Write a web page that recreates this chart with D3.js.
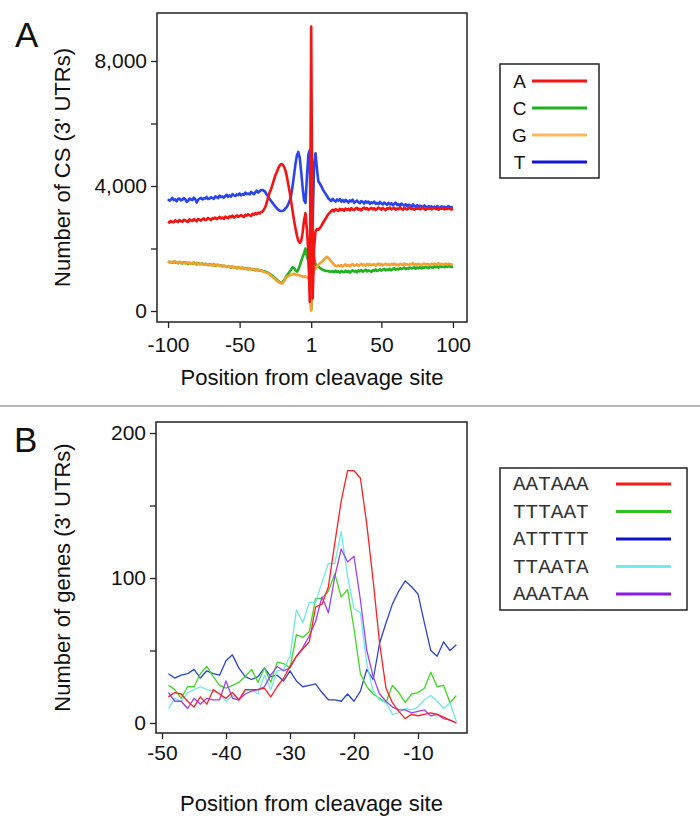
<!DOCTYPE html>
<html><head><meta charset="utf-8">
<script src="https://cdn.jsdelivr.net/npm/d3@7"></script>
<style>body{margin:0;background:#fff} svg{display:block}</style>
</head><body><svg id="c" width="700" height="831"></svg>
<script>
// ---------- Panel A data (index 0..199 = positions -100..-1, 1..100) ----------
const ntNames = ["A", "C", "G", "T"];
const xTickIdxA = [0, 50, 100, 149, 199];
const xTickLabA = ["-100", "-50", "1", "50", "100"];
const yTicksA = [0, 2000, 4000, 6000, 8000];
const yTickLabA = {0: "0", 4000: "4,000", 8000: "8,000"};

const seriesA_A = [
2860,2830,2880,2850,2840,2900,2870,2850,2910,2880,
2860,2920,2900,2870,2850,2930,2900,2880,2940,2910,
2870,2950,2920,2890,2940,2960,2910,2930,2980,2940,
2910,2970,2950,2990,2940,2970,3010,2960,2990,2950,
3020,2990,2970,3030,3000,3050,2990,3020,3060,3010,
3040,3070,3030,3010,3080,3050,3100,3060,3040,3110,
3080,3130,3100,3150,3120,3170,
3180,3250,3330,3480,3650,3800,3900,4050,4200,4350,4450,4570,4660,4700,4690,4620,4500,4300,4050,3800,
3500,3200,2900,2650,2420,2250,2180,2250,2500,2900,3130,2600,1900,300,9100,400,2000,2550,2620,2600,2650,2720,2800,2880,2950,3030,3100,3150,
3200,3240,3190,3260,3230,3200,3270,3230,3260,3210,
3280,3240,3270,3220,3290,3250,3230,3280,3300,3240,
3270,3220,3280,3310,3260,3290,3240,3270,3300,3250,
3290,3230,3270,3310,3280,3240,3300,3260,3230,3290,
3270,3310,3250,3280,3300,3240,3280,3260,3310,3270,
3240,3300,3270,3250,3290,3310,3260,3280,3240,3290,
3270,3300,3250,3280,3310,3260,3240,3290,3270,3300,
3250,3280,3300,3260,3290,3240,3280,3270,3300,3250,
3280,3260,3290,3270,3250,3270];

const seriesA_C = [
1590,1560,1570,1540,1580,1550,1560,1530,1570,1550,
1520,1560,1540,1550,1500,1540,1530,1510,1550,1520,
1490,1530,1510,1500,1520,1480,1510,1490,1470,1500,
1480,1460,1490,1450,1470,1480,1440,1460,1430,1450,
1440,1410,1440,1420,1390,1420,1400,1410,1370,1400,
1380,1360,1390,1350,1370,1360,1330,1360,1340,1320,
1340,1300,1330,1310,1290,1300,
1280,1270,1260,1240,1220,1190,1160,1120,1080,1040,1000,960,920,900,920,980,1060,1140,1200,1260,
1330,1400,1380,1300,1260,1320,1450,1600,1730,1850,2000,1750,1600,1200,30,1950,1700,1500,1440,1420,1380,1350,1320,1300,1290,1280,1270,1260,
1260,1280,1240,1290,1250,1270,1230,1280,1260,1240,
1290,1250,1280,1230,1270,1300,1260,1280,1240,1300,
1270,1310,1260,1290,1320,1270,1300,1280,1250,1310,
1290,1330,1280,1300,1340,1290,1320,1350,1300,1330,
1310,1350,1300,1340,1370,1320,1350,1330,1370,1340,
1360,1390,1340,1370,1350,1390,1360,1380,1400,1350,
1390,1370,1410,1360,1400,1380,1420,1390,1370,1420,
1400,1380,1430,1400,1420,1390,1440,1410,1430,1400,
1430,1410,1440,1420,1410,1430];

const seriesA_G = [
1560,1580,1540,1570,1550,1590,1560,1540,1570,1530,
1560,1540,1520,1560,1530,1550,1510,1540,1520,1500,
1540,1510,1490,1520,1500,1480,1510,1490,1500,1460,
1490,1470,1450,1480,1460,1470,1440,1460,1420,1450,
1430,1410,1440,1400,1420,1410,1380,1410,1390,1370,
1400,1360,1380,1350,1380,1340,1360,1350,1320,1350,
1320,1300,1330,1290,1310,1280,
1270,1250,1240,1220,1200,1170,1130,1090,1050,1010,970,930,900,880,890,950,1030,1090,1120,1140,
1160,1180,1190,1170,1150,1160,1140,1120,1100,1090,1110,1080,1050,900,20,1150,1300,1350,1420,1480,1520,1560,1600,1650,1700,1730,1700,1640,
1580,1530,1480,1440,1430,1460,1440,1470,1420,1460,
1490,1450,1470,1430,1480,1500,1450,1470,1490,1440,
1480,1510,1460,1490,1450,1500,1470,1510,1460,1480,
1500,1450,1490,1520,1470,1500,1460,1490,1510,1470,
1500,1460,1510,1480,1520,1470,1490,1460,1510,1490,
1470,1520,1480,1500,1460,1510,1490,1530,1480,1500,
1470,1510,1490,1460,1500,1520,1480,1510,1490,1470,
1510,1490,1520,1480,1500,1530,1490,1510,1480,1500,
1520,1490,1510,1500,1480,1500];

const seriesA_T = [
3580,3530,3560,3620,3550,3570,3510,3590,3600,3540,
3560,3610,3580,3490,3520,3600,3570,3550,3630,3580,
3470,3560,3590,3620,3570,3610,3600,3650,3580,3600,
3640,3620,3590,3670,3640,3610,3690,3650,3660,3630,
3680,3720,3650,3700,3660,3740,3700,3680,3730,3710,
3760,3700,3740,3720,3790,3740,3760,3730,3810,3770,
3740,3800,3850,3790,3830,3870,
3870,3850,3800,3720,3650,3580,3520,3460,3400,3340,3290,3240,3210,3200,3200,3230,3280,3330,3420,3550,
3700,4000,4350,4700,4980,5090,4900,4450,3950,3550,3460,4300,5000,5150,200,2800,4700,5050,4550,4150,4080,4000,3900,3820,3750,3680,3600,3560,
3520,3590,3540,3500,3570,3530,3580,3500,3550,3490,
3560,3520,3470,3540,3510,3560,3460,3500,3530,3480,
3450,3520,3490,3440,3510,3470,3500,3430,3480,3450,
3500,3430,3460,3420,3490,3440,3410,3470,3430,3400,
3460,3410,3450,3380,3430,3470,3390,3420,3360,3440,
3400,3370,3420,3350,3400,3380,3330,3410,3360,3340,
3390,3320,3370,3350,3310,3380,3340,3300,3360,3330,
3350,3300,3340,3290,3360,3320,3280,3350,3310,3340,
3290,3330,3360,3300,3320,3310];

const colorsA = ["#f41414", "#20b020", "#f5a030", "#2a44f0"];
const legendColorsA = ["#f41414", "#20b020", "#f6b860", "#1616d8"];

// ---------- Panel B data ----------
const positionsB = [-49,-48,-47,-46,-45,-44,-43,-42,-41,-40,-39,-38,-37,-36,-35,-34,-33,-32,-31,-30,
  -29,-28,-27,-26,-25,-24,-23,-22,-21,-20,-19,-18,-17,-16,-15,-14,-13,-12,-11,-10,-9,-8,-7,-6,-5,-4];
const motifs = ["AATAAA", "TTTAAT", "ATTTTT", "TTAATA", "AAATAA"];
const seriesB_AATAAA = [18,21,20,15,11,18,13,23,20,17,21,16,23,23,23,24,18,25,31,39,46,51,56,80,82,94,124,153,174,174,169,137,98,55,24,14,8,3,6,5,6,7,6,4,2,0];
const seriesB_TTTAAT = [26,23,17,25,25,34,39,32,26,24,26,28,32,37,28,38,28,42,41,38,61,59,63,86,86,91,103,87,92,65,34,25,20,17,14,26,21,14,20,21,24,35,25,26,14,19];
const seriesB_ATTTTT = [34,31,33,34,37,31,36,34,33,43,47,38,32,30,32,38,32,33,29,36,29,25,26,27,21,16,16,15,20,15,22,37,30,55,69,82,91,98,94,89,69,50,46,56,50,54];
const seriesB_TTAATA = [10,17,15,21,23,25,23,22,20,15,19,15,22,23,20,33,23,36,37,46,78,69,83,83,97,110,110,132,101,79,76,41,22,16,14,6,7,10,9,11,16,19,15,10,14,1];
const seriesB_AAATAA = [21,15,15,10,17,13,17,16,16,29,17,16,20,22,23,25,33,39,36,38,46,52,60,70,87,76,101,120,111,115,85,50,32,20,15,11,9,9,7,8,9,5,6,3,2,0];
const colorsB = ["#ff2020", "#40d820", "#2a46d6", "#6ee8e8", "#a040f0"];
const legendColorsB = ["#ff1a1a", "#30c020", "#1010d0", "#70ecec", "#8a1ae8"];
const xTicksB = [-50, -40, -30, -20, -10];
const yTicksB = [0, 50, 100, 150, 200];
const yTickLabB = {0: "0", 100: "100", 200: "200"};

// ---------- drawing ----------
const svg = d3.select("#c");
const FONT = "'Liberation Sans', Arial, Helvetica, sans-serif";

function styleAxis(g, size) {
  g.select(".domain").remove();
  g.selectAll(".tick line").attr("stroke", "#222").attr("stroke-width", 1.3);
  g.selectAll(".tick text").attr("font-family", FONT).attr("font-size", size).attr("fill", "#111");
}

// Panel A
{
  const L = 157, R = 467, T = 13, B = 322;
  const x = d3.scaleLinear().domain([-7.7, 208.8]).range([L, R]);
  const y = d3.scaleLinear().domain([-352, 9536]).range([B, T]);
  const series = [seriesA_A, seriesA_C, seriesA_G, seriesA_T];
  const line = d3.line().x((d, i) => x(i)).y(d => y(d));
  [3, 1, 2, 0].forEach(k => {
    svg.append("path").datum(series[k]).attr("d", line)
      .attr("fill", "none").attr("stroke", colorsA[k]).attr("stroke-width", 2.6)
      .attr("stroke-linejoin", "round");
  });
  svg.append("rect").attr("x", L).attr("y", T).attr("width", R - L).attr("height", B - T)
    .attr("fill", "none").attr("stroke", "#222").attr("stroke-width", 1.5);
  const gy = svg.append("g").attr("transform", `translate(${L},0)`)
    .call(d3.axisLeft(y).tickValues(yTicksA).tickFormat(d => yTickLabA[d] || "").tickSize(6).tickPadding(4));
  styleAxis(gy, 21);
  const gx = svg.append("g").attr("transform", `translate(0,${B})`)
    .call(d3.axisBottom(x).tickValues(xTickIdxA).tickFormat((d, i) => xTickLabA[i]).tickSize(6).tickPadding(9));
  styleAxis(gx, 21);
  svg.append("text").attr("x", (L + R) / 2).attr("y", 385).attr("text-anchor", "middle")
    .attr("font-family", FONT).attr("font-size", 22).attr("fill", "#111").text("Position from cleavage site");
  svg.append("text").attr("transform", `translate(70,${(T + B) / 2}) rotate(-90)`).attr("text-anchor", "middle")
    .attr("font-family", FONT).attr("font-size", 22).attr("fill", "#111").text("Number of CS (3' UTRs)");
  svg.append("text").attr("x", 15).attr("y", 47).attr("font-family", FONT).attr("font-size", 35)
    .attr("fill", "#111").text("A");
  svg.append("rect").attr("x", 500).attr("y", 64).attr("width", 99).attr("height", 114)
    .attr("fill", "#fff").attr("stroke", "#222").attr("stroke-width", 1.5);
  ntNames.forEach((n, i) => {
    const cy = 81 + i * 27;
    svg.append("text").attr("x", 519.5).attr("y", cy + 7).attr("text-anchor", "middle")
      .attr("font-family", FONT).attr("font-size", 19).attr("fill", "#111").text(n);
    svg.append("line").attr("x1", 532).attr("x2", 587).attr("y1", cy).attr("y2", cy)
      .attr("stroke", legendColorsA[i]).attr("stroke-width", 3.2);
  });
}

// separator
svg.append("line").attr("x1", 0).attr("x2", 700).attr("y1", 406).attr("y2", 406)
  .attr("stroke", "#a0a0a0").attr("stroke-width", 1.6);

// Panel B
{
  const L = 156, R = 467, T = 422, B = 733;
  const x = d3.scaleLinear().domain([-50.94, -2.34]).range([L, R]);
  const y = d3.scaleLinear().domain([-6.9, 207.6]).range([B, T]);
  const series = [seriesB_AATAAA, seriesB_TTTAAT, seriesB_ATTTTT, seriesB_TTAATA, seriesB_AAATAA];
  const line = d3.line().x((d, i) => x(positionsB[i])).y(d => y(d));
  [2, 1, 3, 4, 0].forEach(k => {
    svg.append("path").datum(series[k]).attr("d", line)
      .attr("fill", "none").attr("stroke", colorsB[k]).attr("stroke-width", 1.3)
      .attr("stroke-linejoin", "round");
  });
  svg.append("rect").attr("x", L).attr("y", T).attr("width", R - L).attr("height", B - T)
    .attr("fill", "none").attr("stroke", "#222").attr("stroke-width", 1.5);
  const gy = svg.append("g").attr("transform", `translate(${L},0)`)
    .call(d3.axisLeft(y).tickValues(yTicksB).tickFormat(d => yTickLabB[d] || "").tickSize(6).tickPadding(4));
  styleAxis(gy, 21);
  const gx = svg.append("g").attr("transform", `translate(0,${B})`)
    .call(d3.axisBottom(x).tickValues(xTicksB).tickFormat(d => String(d)).tickSize(6).tickPadding(6));
  styleAxis(gx, 21);
  svg.append("text").attr("x", (L + R) / 2).attr("y", 811).attr("text-anchor", "middle")
    .attr("font-family", FONT).attr("font-size", 22).attr("fill", "#111").text("Position from cleavage site");
  svg.append("text").attr("transform", `translate(70,${(T + B) / 2}) rotate(-90)`).attr("text-anchor", "middle")
    .attr("font-family", FONT).attr("font-size", 22).attr("fill", "#111").text("Number of genes (3' UTRs)");
  svg.append("text").attr("x", 14).attr("y", 452).attr("font-family", FONT).attr("font-size", 35)
    .attr("fill", "#111").text("B");
  svg.append("rect").attr("x", 500).attr("y", 468).attr("width", 187).attr("height", 142)
    .attr("fill", "#fff").attr("stroke", "#222").attr("stroke-width", 1.5);
  motifs.forEach((m, i) => {
    const cy = 484 + i * 27.5;
    svg.append("text").attr("x", 513).attr("y", cy + 6)
      .attr("font-family", "'Liberation Mono', 'Courier New', monospace").attr("font-size", 21)
      .attr("fill", "#333").text(m);
    svg.append("line").attr("x1", 616).attr("x2", 671).attr("y1", cy).attr("y2", cy)
      .attr("stroke", legendColorsB[i]).attr("stroke-width", 3.2);
  });
}
</script>
</body></html>
